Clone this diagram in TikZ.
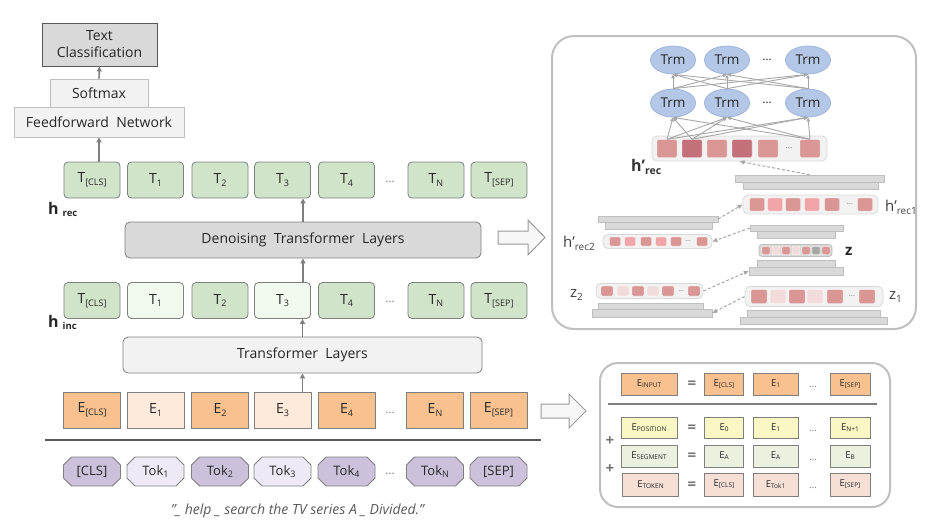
\documentclass[tikz,border=0pt]{standalone}
\usepackage{fontspec}
\setmainfont{Open Sans}
\usetikzlibrary{shapes.geometric,shapes.misc,arrows.meta,calc}
\definecolor{txt}{HTML}{262626}
\definecolor{gbd}{HTML}{7F7F7F}
\definecolor{lbd}{HTML}{BFBFBF}
\definecolor{darkb}{HTML}{595959}
\definecolor{tgreen}{HTML}{CFE4C8}
\definecolor{tgreenl}{HTML}{F1F8EE}
\definecolor{eorange}{HTML}{F9C18F}
\definecolor{eorangel}{HTML}{FDEADA}
\definecolor{tpurple}{HTML}{CCC1DA}
\definecolor{tpurplel}{HTML}{EEEAF5}
\definecolor{dgray}{HTML}{D9D9D9}
\definecolor{lgray}{HTML}{F2F2F2}
\definecolor{trmfill}{HTML}{B4C7E7}
\definecolor{trmdraw}{HTML}{9DB4DB}
\definecolor{pmed}{HTML}{D99694}
\definecolor{pdark}{HTML}{C4707B}
\definecolor{plight}{HTML}{F2A5A8}
\definecolor{pvlight}{HTML}{F2DCDB}
\definecolor{posy}{HTML}{F9F8C5}
\definecolor{segg}{HTML}{EBF1DE}
\definecolor{tokp}{HTML}{F6E0D6}
\newcommand\fsz[1]{\fontsize{#1}{#1}\selectfont}
\newcommand\lowtxt[1]{\raisebox{-0.35ex}{\fsz{9}#1}}
\newcommand\esub[1]{\raisebox{-0.2ex}{\fsz{6.5}#1}}
\begin{document}
\begin{tikzpicture}[x=1pt,y=-1pt,
  base/.style={draw=gbd, line width=0.8pt, inner sep=0pt, text=txt},
  tg/.style={base, fill=tgreen, rounded corners=4pt, minimum width=56, minimum height=36, font=\fsz{14}},
  tgl/.style={tg, fill=tgreenl},
  eo/.style={base, fill=eorange, minimum width=57, minimum height=36, font=\fsz{14}},
  eol/.style={eo, fill=eorangel},
  tp/.style={base, fill=tpurple, chamfered rectangle, chamfered rectangle xsep=4pt, chamfered rectangle ysep=4pt, minimum width=57, minimum height=29, font=\fsz{13}},
  tpl/.style={tp, fill=tpurplel},
  dotn/.style={text=gbd, font=\fsz{12}, inner sep=0pt},
  arr/.style={draw=gbd, line width=1.6pt, -{Triangle[length=5pt,width=5pt]}},
  thinarr/.style={draw=black!35, line width=0.9pt, -{Triangle[length=4pt,width=3.5pt]}},
  dasharr/.style={draw=black!35, line width=1pt, dash pattern=on 3pt off 2pt, -{Triangle[length=5pt,width=4pt]}},
  hollow/.style={draw=black!40, fill=black!3, line width=1pt},
  panel/.style={draw=lbd, line width=2pt, rounded corners=22pt},
  trm/.style={ellipse, draw=trmdraw, fill=trmfill, line width=0.8pt, minimum width=45, minimum height=28, inner sep=0pt, font=\fsz{13.5}, text=txt},
  vec/.style={draw=dgray, fill=lgray, line width=0.8pt, rounded corners=5pt, inner sep=0pt},
  sq/.style={rounded corners=1pt, inner sep=0pt, draw=white, line width=0.4pt},
  bar/.style={draw=lbd, fill=dgray, line width=0.6pt, inner sep=0pt},
  lbl/.style={inner sep=0pt, text=black!75, font=\fsz{15}},
  ebx/.style={base, line width=0.7pt, minimum height=22, font=\fsz{9.5}},
  eqn/.style={inner sep=0pt, text=black!55, font=\fsz{15}\bfseries},
]
\useasboundingbox (0,0) rectangle (947,528);

% ---------------- left column ----------------
\node[base, draw=darkb, fill=dgray, minimum width=115, minimum height=43, align=center, font=\fontsize{14}{17}\selectfont] (tc) at (99.5,44.5) {Text\\Classification};
\node[base, draw=lbd, fill=lgray, minimum width=170, minimum height=30, font=\fsz{14}] (ffn) at (99,122) {Feedforward\ \ Network};
\node[base, draw=lbd, fill=lgray, minimum width=98, minimum height=28, font=\fsz{14}] (sm) at (99,93) {Softmax};

% h_rec row
\foreach \n/\x/\s/\t in {a/92/tg/T\lowtxt{[CLS]}, b/155.5/tg/T\lowtxt{1}, c/220/tg/T\lowtxt{2}, d/282.5/tg/T\lowtxt{3}, e/346.5/tg/T\lowtxt{4}, n/436/tg/T\lowtxt{N}, s/499/tg/T\lowtxt{[SEP]}}
  \node[\s] (r1\n) at (\x,180) {\t};
\node[dotn] (r1dots) at (390,182) {…};
% h_inc row
\foreach \n/\x/\s/\t in {a/92/tg/T\lowtxt{[CLS]}, b/155.5/tgl/T\lowtxt{1}, c/220/tg/T\lowtxt{2}, d/282.5/tgl/T\lowtxt{3}, e/346.5/tg/T\lowtxt{4}, n/436/tg/T\lowtxt{N}, s/499/tg/T\lowtxt{[SEP]}}
  \node[\s] (r2\n) at (\x,300.5) {\t};
\node[dotn] (r2dots) at (390,302) {…};
% E row
\foreach \n/\x/\s/\t in {a/92/eo/E\lowtxt{[CLS]}, b/155.5/eol/E\lowtxt{1}, c/220/eo/E\lowtxt{2}, d/282.5/eol/E\lowtxt{3}, e/346.5/eo/E\lowtxt{4}, n/435/eo/E\lowtxt{N}, s/498.5/eo/E\lowtxt{[SEP]}}
  \node[\s] (e\n) at (\x,410) {\t};
\node[dotn] (edots) at (390,413) {…};
% Tok row
\foreach \n/\x/\s/\t in {a/92/tp/{[CLS]}, b/155.5/tpl/Tok\lowtxt{1}, c/220/tp/Tok\lowtxt{2}, d/282.5/tpl/Tok\lowtxt{3}, e/346.5/tp/Tok\lowtxt{4}, n/435/tp/Tok\lowtxt{N}, s/498.5/tp/{[SEP]}}
  \node[\s] (k\n) at (\x,471.5) {\t};
\node[dotn] (kdots) at (390,474) {…};

\node[base, fill=dgray, rounded corners=5pt, minimum width=356, minimum height=36, font=\fsz{14}] (den) at (303,240) {Denoising\ \ Transformer\ \ Layers};
\node[base, fill=lgray, rounded corners=5pt, minimum width=359, minimum height=36, font=\fsz{14}] (trf) at (302.5,355) {Transformer\ \ Layers};

\node[anchor=base west, inner sep=0pt, text=txt, font=\fsz{16}\bfseries] (hrec) at (48,214) {h\hspace{4pt}\raisebox{-2pt}{\fsz{9.5}rec}};
\node[anchor=base west, inner sep=0pt, text=txt, font=\fsz{16}\bfseries] (hinc) at (48,327) {h\hspace{4pt}\raisebox{-2pt}{\fsz{9.5}inc}};

\draw[arr] (sm.north) -- (tc.south);
\draw[arr] (r1a.north -| ffn.south) -- (ffn.south);
\draw[arr] (den.north) -- (den.north |- r1d.south);
\draw[arr] (r2d.north -| den.south) -- (den.south);
\draw[arr] (trf.north) -- (trf.north |- r2d.south);
\draw[arr] (ed.north -| trf.south) -- (trf.south);

\draw[draw=darkb, line width=2pt] (45,440) coordinate (sepl) -- (541,440) coordinate (sepr);
\node[inner sep=0pt, text=black!65, font=\fsz{14}\itshape] (cap) at (297.5,511) {"\_ help \_ search the TV series A \_ Divided."};

% hollow arrows
\draw[hollow] (498,231) -- (528,231) -- (528,220) -- (545,237.5) -- (528,255) -- (528,244) -- (498,244) -- cycle;
\draw[hollow] (541,404) -- (569,404) -- (569,394) -- (586,411) -- (569,428) -- (569,418) -- (541,418) -- cycle;

% ---------------- right top panel ----------------
\draw[panel] (552,36) rectangle (916,329);
\foreach \i/\x in {1/673,2/727,3/808} {
  \node[trm] (up\i) at (\x,60) {Trm};
  \node[trm] (lo\i) at (\x,103) {Trm};
}
\node[dotn, text=txt] (updots) at (767,60) {…};
\node[dotn, text=txt] (lodots) at (767,103) {…};
\node[vec, minimum width=175, minimum height=25] (hrec) at (739.5,148.5) {};
\foreach \k/\x/\c in {1/667/pmed,2/692/pdark,3/717/pmed,4/742/pdark,5/768/pmed,7/810/pmed}
  \node[sq, fill=\c, minimum width=20, minimum height=18] (hrs\k) at (\x,148.5) {};
\node[dotn, font=\fsz{9}] (hrs6) at (789,148) {…};
\node[dotn, font=\fsz{9}] (middots) at (742,129) {…};
\foreach \i in {1,2,3} \foreach \j in {1,2,3} \draw[thinarr] (lo\i.north) -- (up\j.south);
\foreach \s in {1,2,7} \foreach \j in {1,2,3} \draw[thinarr] (hrs\s.north) -- (lo\j.south);
\node[anchor=base west, inner sep=0pt, text=black!80, font=\fsz{16}\bfseries] (lhrec) at (631,171) {h’\raisebox{-3pt}{\fsz{10.5}rec}};

% stacks
\node[bar, minimum width=149, minimum height=7] (s1a) at (809.5,178.5) {};
\node[bar, minimum width=135, minimum height=7] (s1b) at (810.5,185.5) {};
\node[bar, minimum width=120, minimum height=6] (s2a) at (658,219) {};
\node[bar, minimum width=107, minimum height=7] (s2b) at (658.5,225.5) {};
\node[bar, minimum width=93, minimum height=6] (s3a) at (796.5,228) {};
\node[bar, minimum width=78, minimum height=7] (s3b) at (796,234.5) {};
\node[bar, minimum width=78, minimum height=7] (s4a) at (796,263.5) {};
\node[bar, minimum width=94, minimum height=8] (s4b) at (796,271) {};
\node[bar, minimum width=105, minimum height=6] (s5a) at (650.5,306) {};
\node[bar, minimum width=120, minimum height=8] (s5b) at (652,313) {};
\node[bar, minimum width=133, minimum height=7] (s6a) at (813.5,313.5) {};
\node[bar, minimum width=147, minimum height=7] (s6b) at (813.5,320.5) {};

% h'rec1
\node[vec, minimum width=135, minimum height=19] (hr1) at (810.5,204.5) {};
\foreach \k/\x/\c in {1/757/pmed,2/775/plight,3/793/pmed,4/812/plight,5/832/pmed,7/865/pmed}
  \node[sq, fill=\c, minimum width=15, minimum height=13] (hr1s\k) at (\x,204.5) {};
\node[dotn, font=\fsz{8}] (hr1s6) at (850,204) {…};
\node[lbl, anchor=base west] (lhr1) at (885,211) {h’\raisebox{-3pt}{\fsz{10}rec1}};
% h'rec2
\node[vec, minimum width=109, minimum height=14] (hr2) at (657.5,241.5) {};
\foreach \k/\x/\c in {1/615/pmed,2/630/plight,3/646/pmed,4/661/plight,5/676/pmed,7/702/pmed}
  \node[sq, fill=\c, minimum width=11, minimum height=9] (hr2s\k) at (\x,241.5) {};
\node[dotn, font=\fsz{7}] (hr2s6) at (688,241) {…};
\node[lbl, anchor=base west] (lhr2) at (563,247) {h’\raisebox{-3pt}{\fsz{10}rec2}};
% z
\node[vec, fill=dgray, draw=lbd, rounded corners=3pt, minimum width=73, minimum height=12] (zv) at (795.5,250.5) {};
\foreach \k/\x/\c in {1/766/pmed,2/776/pvlight,3/786/pmed,4/796/pvlight,5/806/pmed,6/816/black!35,7/826/pmed}
  \node[sq, fill=\c, minimum width=8, minimum height=8] (zs\k) at (\x,250.5) {};
\node[lbl, anchor=base west, text=black!85, font=\fsz{15}\bfseries] (lz) at (845,255) {z};
% z2
\node[vec, minimum width=107, minimum height=15] (z2v) at (649.5,291) {};
\foreach \k/\x/\c in {1/607/pmed,2/623/pvlight,3/638/pmed,4/653/pvlight,5/668/pmed,7/694/pmed}
  \node[sq, fill=\c, minimum width=12, minimum height=10] (z2s\k) at (\x,291) {};
\node[dotn, font=\fsz{7}] (z2s6) at (681,291) {…};
\node[lbl, anchor=base west] (lz2) at (570,297) {z\raisebox{-3pt}{\fsz{10}2}};
% z1
\node[vec, minimum width=138, minimum height=20] (z1v) at (814,296.5) {};
\foreach \k/\x/\c in {1/759/pmed,2/778/pvlight,3/797/pmed,4/815/pvlight,5/835/pmed,7/867/pmed}
  \node[sq, fill=\c, minimum width=16, minimum height=14] (z1s\k) at (\x,296.5) {};
\node[dotn, font=\fsz{8}] (z1s6) at (852,296) {…};
\node[lbl, anchor=base west] (lz1) at (889,299) {z\raisebox{-3pt}{\fsz{10}1}};

\draw[dasharr] (s1a.north) -- (hrec.south);
\draw[dasharr] (s2a.east) -- (hr1.west);
\draw[dasharr] (s3a.west) -- (hr2.east);
\draw[dasharr] (z2v.east) -- (s4b.west);
\draw[dasharr] (z1v.west) -- (s5b.east);

% ---------------- right bottom panel ----------------
\draw[panel, rounded corners=18pt] (600,363) rectangle (890,507);
\node[ebx, fill=eorange, minimum width=56] (ein) at (649,384) {E\esub{INPUT}};
\node[eqn] (eq1) at (692,385) {=};
\node[ebx, fill=eorange, minimum width=39] (ein1) at (724,384) {E\esub{[CLS]}};
\node[ebx, fill=eorange, minimum width=45] (ein2) at (775.5,384) {E\esub{1}};
\node[dotn, font=\fsz{10}] (eind) at (813,387) {…};
\node[ebx, fill=eorange, minimum width=40] (ein3) at (850,384) {E\esub{[SEP]}};
\draw[draw=gbd, line width=1.5pt] (608,404) coordinate (bsl) -- (877,404) coordinate (bsr);

\node[ebx, fill=posy, minimum width=56, minimum height=21] (epo) at (649,427.5) {E\esub{POSITION}};
\node[eqn] (eq2) at (692,429) {=};
\node[ebx, fill=posy, minimum width=39, minimum height=21] (epo1) at (724,427.5) {E\esub{0}};
\node[ebx, fill=posy, minimum width=45, minimum height=21] (epo2) at (775.5,427.5) {E\esub{1}};
\node[dotn, font=\fsz{10}] (epod) at (813,431) {…};
\node[ebx, fill=posy, minimum width=40, minimum height=21] (epo3) at (850,427.5) {E\esub{N+1}};

\node[ebx, fill=segg, minimum width=56] (ese) at (649,456) {E\esub{SEGMENT}};
\node[eqn] (eq3) at (692,457) {=};
\node[ebx, fill=segg, minimum width=39] (ese1) at (724,456) {E\esub{A}};
\node[ebx, fill=segg, minimum width=45] (ese2) at (775.5,456) {E\esub{A}};
\node[dotn, font=\fsz{10}] (esed) at (813,460) {…};
\node[ebx, fill=segg, minimum width=40] (ese3) at (850,456) {E\esub{B}};

\node[ebx, fill=tokp, minimum width=56, minimum height=23] (eto) at (650.5,484.5) {E\esub{TOKEN}};
\node[eqn] (eq4) at (692,486) {=};
\node[ebx, fill=tokp, minimum width=39, minimum height=23] (eto1) at (724,484.5) {E\esub{[CLS]}};
\node[ebx, fill=tokp, minimum width=45, minimum height=23] (eto2) at (775.5,484.5) {E\esub{Tok1}};
\node[dotn, font=\fsz{10}] (etod) at (813,488) {…};
\node[ebx, fill=tokp, minimum width=40, minimum height=23] (eto3) at (850,484.5) {E\esub{[SEP]}};

\node[eqn] (pl1) at (610,441) {+};
\node[eqn] (pl2) at (610,469) {+};
\end{tikzpicture}
\end{document}
